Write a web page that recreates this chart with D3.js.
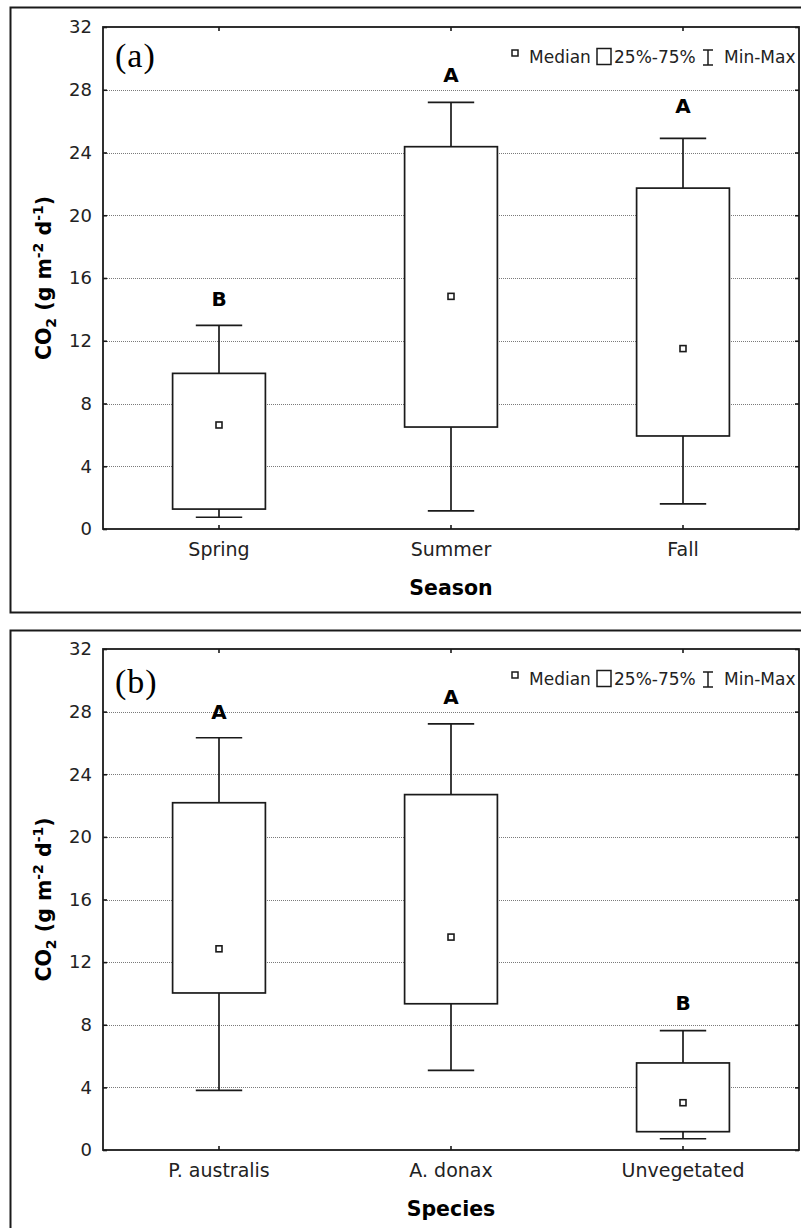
<!DOCTYPE html>
<html>
<head>
<meta charset="utf-8">
<script src="https://cdn.jsdelivr.net/npm/d3@7"></script>
<style>
  html, body { margin: 0; padding: 0; background: #fff; }
  svg { display: block; }
</style>
</head>
<body>
<svg id="chart" width="801" height="1228"></svg>
<script>
// CO2 flux box plots: by season (a) and by vegetation type (b)

// ---- data (g m-2 d-1) ----
const seasons        = ["Spring", "Summer", "Fall"];
const seasonMin      = [0.75, 1.15, 1.6];
const seasonQ1       = [1.27, 6.5, 5.93];
const seasonMedian   = [6.63, 14.83, 11.5];
const seasonQ3       = [9.92, 24.37, 21.73];
const seasonMax      = [12.98, 27.2, 24.9];
const seasonGroups   = ["B", "A", "A"];
const seasonGroupAt  = [14.2, 28.5, 26.5];   // value where each group letter sits

const species        = ["P. australis", "A. donax", "Unvegetated"];
const speciesMin     = [3.81, 5.09, 0.72];
const speciesQ1      = [10.03, 9.34, 1.17];
const speciesMedian  = [12.85, 13.6, 3.02];
const speciesQ3      = [22.18, 22.7, 5.56];
const speciesMax     = [26.33, 27.22, 7.62];
const speciesGroups  = ["A", "A", "B"];
const speciesGroupAt = [27.5, 28.5, 8.94];

const yTicks = [0, 4, 8, 12, 16, 20, 24, 28, 32];

// ---- layout ----
const W = 801, H = 1228;
const left = 103, right = 799;
const sans = "'DejaVu Sans', sans-serif";
const ink = "#1a1a1a";

const panels = [
  { tag: "(a)", title: "Season", cats: seasons, min: seasonMin, q1: seasonQ1, med: seasonMedian,
    q3: seasonQ3, max: seasonMax, groups: seasonGroups, groupAt: seasonGroupAt,
    frameTop: 7, frameBottom: 612, top: 27, bottom: 529, tagDy: 40 },
  { tag: "(b)", title: "Species", cats: species, min: speciesMin, q1: speciesQ1, med: speciesMedian,
    q3: speciesQ3, max: speciesMax, groups: speciesGroups, groupAt: speciesGroupAt,
    frameTop: 630, frameBottom: 1240, top: 649, bottom: 1150, tagDy: 44 }
];

const svg = d3.select("#chart");
svg.append("rect").attr("width", W).attr("height", H).attr("fill", "#fff");

panels.forEach(p => {
  const g = svg.append("g");

  // outer frame around the panel
  g.append("rect")
    .attr("x", 10.5).attr("y", p.frameTop + 0.5)
    .attr("width", W).attr("height", p.frameBottom - p.frameTop)
    .attr("fill", "none").attr("stroke", ink).attr("stroke-width", 2);

  const x = d3.scaleBand().domain(p.cats).range([left, right]);
  const y = d3.scaleLinear().domain([0, 32]).range([p.bottom, p.top]);
  const cx = c => x(c) + x.bandwidth() / 2;
  const boxW = x.bandwidth() * 0.4;
  const capW = x.bandwidth() * 0.2;

  // dotted horizontal grid
  g.append("g").selectAll("line")
    .data(yTicks.filter(t => t > 0 && t < 32))
    .join("line")
    .attr("x1", left).attr("x2", right)
    .attr("y1", d => Math.round(y(d)) + 0.5).attr("y2", d => Math.round(y(d)) + 0.5)
    .attr("stroke", "#7a7a7a").attr("stroke-width", 1)
    .attr("stroke-dasharray", "1,1");

  const rows = p.cats.map((c, i) => ({
    c, min: p.min[i], q1: p.q1[i], med: p.med[i], q3: p.q3[i], max: p.max[i],
    grp: p.groups[i], grpAt: p.groupAt[i]
  }));

  const box = g.append("g").selectAll("g").data(rows).join("g");

  // whisker stem
  box.append("line")
    .attr("x1", d => cx(d.c)).attr("x2", d => cx(d.c))
    .attr("y1", d => y(d.min)).attr("y2", d => y(d.max))
    .attr("stroke", ink).attr("stroke-width", 1.7);
  // whisker caps
  box.append("line")
    .attr("x1", d => cx(d.c) - capW / 2).attr("x2", d => cx(d.c) + capW / 2)
    .attr("y1", d => y(d.max)).attr("y2", d => y(d.max))
    .attr("stroke", ink).attr("stroke-width", 1.7);
  box.append("line")
    .attr("x1", d => cx(d.c) - capW / 2).attr("x2", d => cx(d.c) + capW / 2)
    .attr("y1", d => y(d.min)).attr("y2", d => y(d.min))
    .attr("stroke", ink).attr("stroke-width", 1.7);
  // 25%-75% box
  box.append("rect")
    .attr("x", d => cx(d.c) - boxW / 2).attr("width", boxW)
    .attr("y", d => y(d.q3)).attr("height", d => y(d.q1) - y(d.q3))
    .attr("fill", "#fff").attr("stroke", ink).attr("stroke-width", 1.7);
  // median marker
  box.append("rect")
    .attr("x", d => cx(d.c) - 3).attr("y", d => y(d.med) - 3)
    .attr("width", 6).attr("height", 6)
    .attr("fill", "#fff").attr("stroke", ink).attr("stroke-width", 1.6);
  // group letters
  box.append("text")
    .attr("x", d => cx(d.c)).attr("y", d => y(d.grpAt))
    .attr("text-anchor", "middle")
    .attr("font-family", sans).attr("font-weight", "bold").attr("font-size", 20)
    .attr("fill", "#000")
    .text(d => d.grp);

  // plot border
  g.append("rect")
    .attr("x", left).attr("y", p.top)
    .attr("width", right - left).attr("height", p.bottom - p.top)
    .attr("fill", "none").attr("stroke", ink).attr("stroke-width", 1.8);

  // axes: inward ticks on all four sides
  const yl = g.append("g").attr("transform", `translate(${left},0)`)
    .call(d3.axisLeft(y).tickValues(yTicks).tickSize(-4).tickPadding(11));
  const yr = g.append("g").attr("transform", `translate(${right},0)`)
    .call(d3.axisRight(y).tickValues(yTicks).tickSize(-4).tickFormat(""));
  const xb = g.append("g").attr("transform", `translate(0,${p.bottom})`)
    .call(d3.axisBottom(x).tickSize(-4).tickPadding(14));
  const xt = g.append("g").attr("transform", `translate(0,${p.top})`)
    .call(d3.axisTop(x).tickSize(-4).tickFormat(""));
  [yl, yr, xb, xt].forEach(a => {
    a.select(".domain").remove();
    a.selectAll(".tick line").attr("stroke", ink).attr("stroke-width", 1.6);
  });
  yl.selectAll(".tick text")
    .attr("font-family", sans).attr("font-size", 18).attr("fill", "#222");
  xb.selectAll(".tick text")
    .attr("font-family", sans).attr("font-size", 19).attr("fill", "#222");

  // axis titles
  g.append("text")
    .attr("x", (left + right) / 2).attr("y", p.bottom + 66)
    .attr("text-anchor", "middle")
    .attr("font-family", sans).attr("font-weight", "bold").attr("font-size", 20.5)
    .attr("fill", "#000")
    .text(p.title);

  const yt = g.append("text")
    .attr("transform", `translate(51,${(p.top + p.bottom) / 2}) rotate(-90)`)
    .attr("text-anchor", "middle")
    .attr("font-family", sans).attr("font-weight", "bold").attr("font-size", 20.5)
    .attr("fill", "#000");
  yt.append("tspan").text("CO");
  yt.append("tspan").attr("font-size", 14).attr("dy", 5).text("2");
  yt.append("tspan").attr("dy", -5).text(" (g m");
  yt.append("tspan").attr("font-size", 14).attr("dy", -8).text("-2");
  yt.append("tspan").attr("dy", 8).text(" d");
  yt.append("tspan").attr("font-size", 14).attr("dy", -8).text("-1");
  yt.append("tspan").attr("dy", 8).text(")");

  // panel tag
  g.append("text")
    .attr("x", left + 12).attr("y", p.top + p.tagDy)
    .attr("font-family", "'Liberation Serif', serif").attr("font-size", 34)
    .attr("letter-spacing", 1)
    .attr("fill", "#000")
    .text(p.tag);

  // legend
  const lg = g.append("g").attr("transform", `translate(0,${p.top})`)
    .attr("font-family", sans).attr("font-size", 17).attr("fill", "#222");
  lg.append("rect").attr("x", right - 287).attr("y", 23).attr("width", 6).attr("height", 6)
    .attr("fill", "#fff").attr("stroke", ink).attr("stroke-width", 1.5);
  lg.append("text").attr("x", right - 270).attr("y", 35.5).text("Median");
  lg.append("rect").attr("x", right - 202).attr("y", 21.5).attr("width", 14).attr("height", 16)
    .attr("fill", "#fff").attr("stroke", ink).attr("stroke-width", 1.5);
  lg.append("text").attr("x", right - 185).attr("y", 35.5).text("25%-75%");
  lg.append("line").attr("x1", right - 91).attr("x2", right - 91).attr("y1", 23).attr("y2", 38)
    .attr("stroke", ink).attr("stroke-width", 1.5);
  lg.append("line").attr("x1", right - 96).attr("x2", right - 86).attr("y1", 23).attr("y2", 23)
    .attr("stroke", ink).attr("stroke-width", 1.5);
  lg.append("line").attr("x1", right - 96).attr("x2", right - 86).attr("y1", 38).attr("y2", 38)
    .attr("stroke", ink).attr("stroke-width", 1.5);
  lg.append("text").attr("x", right - 75).attr("y", 35.5).text("Min-Max");
});
</script>
</body>
</html>
